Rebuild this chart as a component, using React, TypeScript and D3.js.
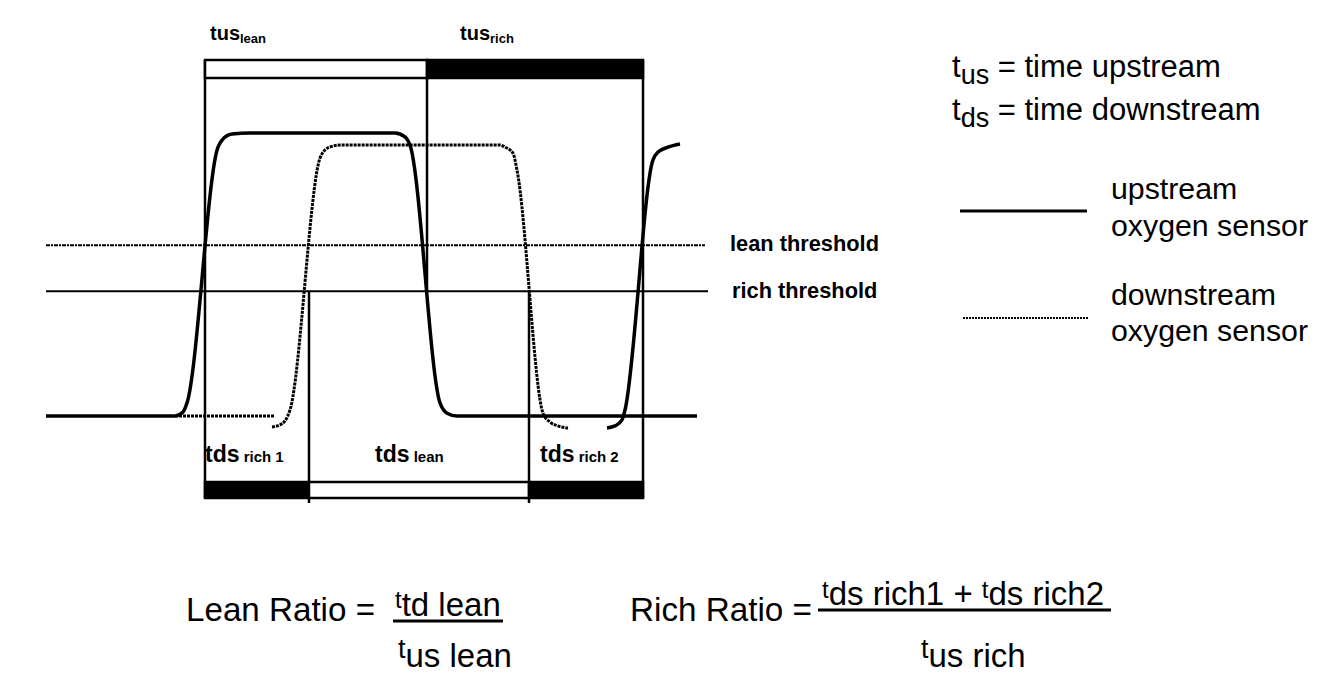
import React from 'react';
import * as d3 from 'd3';

// sensor traces: [time (ms), output (V)]
const upstreamA: [number, number][] = [
  [0, 0.1], [129, 0.1], [137, 0.111], [141, 0.137], [172, 0.86], [176, 0.88],
  [186, 0.897], [204, 0.9], [349, 0.9], [359, 0.889], [364, 0.866], [394, 0.137],
  [401, 0.108], [411, 0.1], [651, 0.1],
];
const upstreamB: [number, number][] = [
  [561, 0.066], [569, 0.072], [576, 0.089], [579, 0.117], [607, 0.824], [612, 0.846],
  [622, 0.86], [634, 0.869],
];
const downstreamA: [number, number][] = [[129, 0.1], [229, 0.1]];
const downstreamB: [number, number][] = [
  [226, 0.069], [234, 0.075], [239, 0.086], [244, 0.117], [274, 0.829], [279, 0.852],
  [287, 0.863], [294, 0.866], [454, 0.866], [459, 0.86], [467, 0.843], [471, 0.795],
  [497, 0.108], [504, 0.083], [512, 0.072], [522, 0.066],
];

const leanThreshold = 0.583;
const richThreshold = 0.453;

// time windows
const tusSegments = [
  { name: 'lean', from: 159, to: 381, rich: false },
  { name: 'rich', from: 381, to: 597, rich: true },
];
const tdsSegments = [
  { name: 'rich 1', from: 159, to: 263, rich: true },
  { name: 'lean', from: 263, to: 483, rich: false },
  { name: 'rich 2', from: 483, to: 597, rich: true },
];

const App = () => {
  const x = d3.scaleLinear().domain([0, 660]).range([46, 706]);
  const y = d3.scaleLinear().domain([0.1, 0.9]).range([416, 133]);

  const line = d3.line<[number, number]>()
    .x(d => x(d[0]))
    .y(d => y(d[1]))
    .curve(d3.curveMonotoneX);

  const font = "'Liberation Sans', Arial, sans-serif";
  const barTop = 60, barH = 18;
  const botTop = 482, botH = 16;
  const yRich = y(richThreshold);

  return (
    <svg width={1344} height={694} style={{ position: 'absolute', left: 0, top: 0, background: '#fff' }}
      fontFamily={font}>
      {/* threshold lines */}
      <line x1={x(0)} x2={x(659)} y1={y(leanThreshold)} y2={y(leanThreshold)}
        stroke="#000" strokeWidth={2} strokeDasharray="4 1 2 1" />
      <line x1={x(0)} x2={x(662)} y1={yRich} y2={yRich} stroke="#000" strokeWidth={2} />
      <text x={730} y={251} fontSize={21.8} fontWeight="bold">lean threshold</text>
      <text x={732} y={298} fontSize={21.8} fontWeight="bold">rich threshold</text>

      {/* vertical markers */}
      <line x1={x(159)} x2={x(159)} y1={barTop} y2={botTop + botH} stroke="#000" strokeWidth={2.5} />
      <line x1={x(381)} x2={x(381)} y1={barTop} y2={yRich} stroke="#000" strokeWidth={2.5} />
      <line x1={x(597)} x2={x(597)} y1={barTop} y2={botTop + botH} stroke="#000" strokeWidth={2.5} />
      <line x1={x(263)} x2={x(263)} y1={yRich} y2={botTop + botH + 5} stroke="#000" strokeWidth={2.5} />
      <line x1={x(483)} x2={x(483)} y1={yRich} y2={botTop + botH + 5} stroke="#000" strokeWidth={2.5} />

      {/* time bars */}
      {tusSegments.map(s => (
        <rect key={'u' + s.name} x={x(s.from)} y={barTop} width={x(s.to) - x(s.from)} height={barH}
          fill={s.rich ? '#000' : '#fff'} stroke="#000" strokeWidth={2.5} />
      ))}
      {tdsSegments.map(s => (
        <rect key={'d' + s.name} x={x(s.from)} y={botTop} width={x(s.to) - x(s.from)} height={botH}
          fill={s.rich ? '#000' : '#fff'} stroke="#000" strokeWidth={2.5} />
      ))}

      {/* traces */}
      <path d={line(downstreamA) || ''} fill="none" stroke="#000" strokeWidth={3} strokeDasharray="3 1" />
      <path d={line(downstreamB) || ''} fill="none" stroke="#000" strokeWidth={3} strokeDasharray="3 1" />
      <path d={line(upstreamA) || ''} fill="none" stroke="#000" strokeWidth={3.5} />
      <path d={line(upstreamB) || ''} fill="none" stroke="#000" strokeWidth={3.5} />

      {/* window labels */}
      <text x={210} y={40} fontWeight="bold" fontSize={20}>tus<tspan fontSize={13} dy={3}>lean</tspan></text>
      <text x={460} y={40} fontWeight="bold" fontSize={20}>tus<tspan fontSize={13} dy={3}>rich</tspan></text>
      <text x={205} y={462} fontWeight="bold" fontSize={23}>tds<tspan fontSize={15}> rich 1</tspan></text>
      <text x={375} y={462} fontWeight="bold" fontSize={23}>tds<tspan fontSize={15}> lean</tspan></text>
      <text x={540} y={462} fontWeight="bold" fontSize={23}>tds<tspan fontSize={15}> rich 2</tspan></text>

      {/* legend */}
      <text x={952} y={77} fontSize={31}>t<tspan fontSize={27} dy={7}>us</tspan><tspan dy={-7}> = time upstream</tspan></text>
      <text x={952} y={120} fontSize={31}>t<tspan fontSize={27} dy={7}>ds</tspan><tspan dy={-7}> = time downstream</tspan></text>
      <line x1={960} x2={1087} y1={211} y2={211} stroke="#000" strokeWidth={3} />
      <text x={1111} y={199} fontSize={30.3}>upstream</text>
      <text x={1111} y={236} fontSize={30.3}>oxygen sensor</text>
      <line x1={963} x2={1088} y1={318} y2={318} stroke="#000" strokeWidth={2} strokeDasharray="2 1" />
      <text x={1111} y={305} fontSize={30.3}>downstream</text>
      <text x={1111} y={341} fontSize={30.3}>oxygen sensor</text>

      {/* ratios */}
      <text x={186} y={621} fontSize={33} textLength={189} lengthAdjust="spacingAndGlyphs">Lean Ratio =</text>
      <text x={395} y={608} fontSize={33}><tspan fontSize={24}>t</tspan><tspan dy={8}>td lean</tspan></text>
      <line x1={393} x2={503} y1={621} y2={621} stroke="#000" strokeWidth={3} />
      <text x={398} y={658} fontSize={33}><tspan fontSize={27}>t</tspan><tspan dy={9}>us lean</tspan></text>

      <text x={630} y={621} fontSize={33} textLength={182} lengthAdjust="spacingAndGlyphs">Rich Ratio =</text>
      <text x={822} y={598} fontSize={33}><tspan fontSize={24}>t</tspan><tspan dy={7}>ds rich1 + </tspan><tspan fontSize={24} dy={-7}>t</tspan><tspan dy={7}>ds rich2</tspan></text>
      <line x1={818} x2={1111} y1={610} y2={610} stroke="#000" strokeWidth={3} />
      <text x={921} y={658} fontSize={33}><tspan fontSize={27}>t</tspan><tspan dy={9}>us rich</tspan></text>
    </svg>
  );
};

export default App;
